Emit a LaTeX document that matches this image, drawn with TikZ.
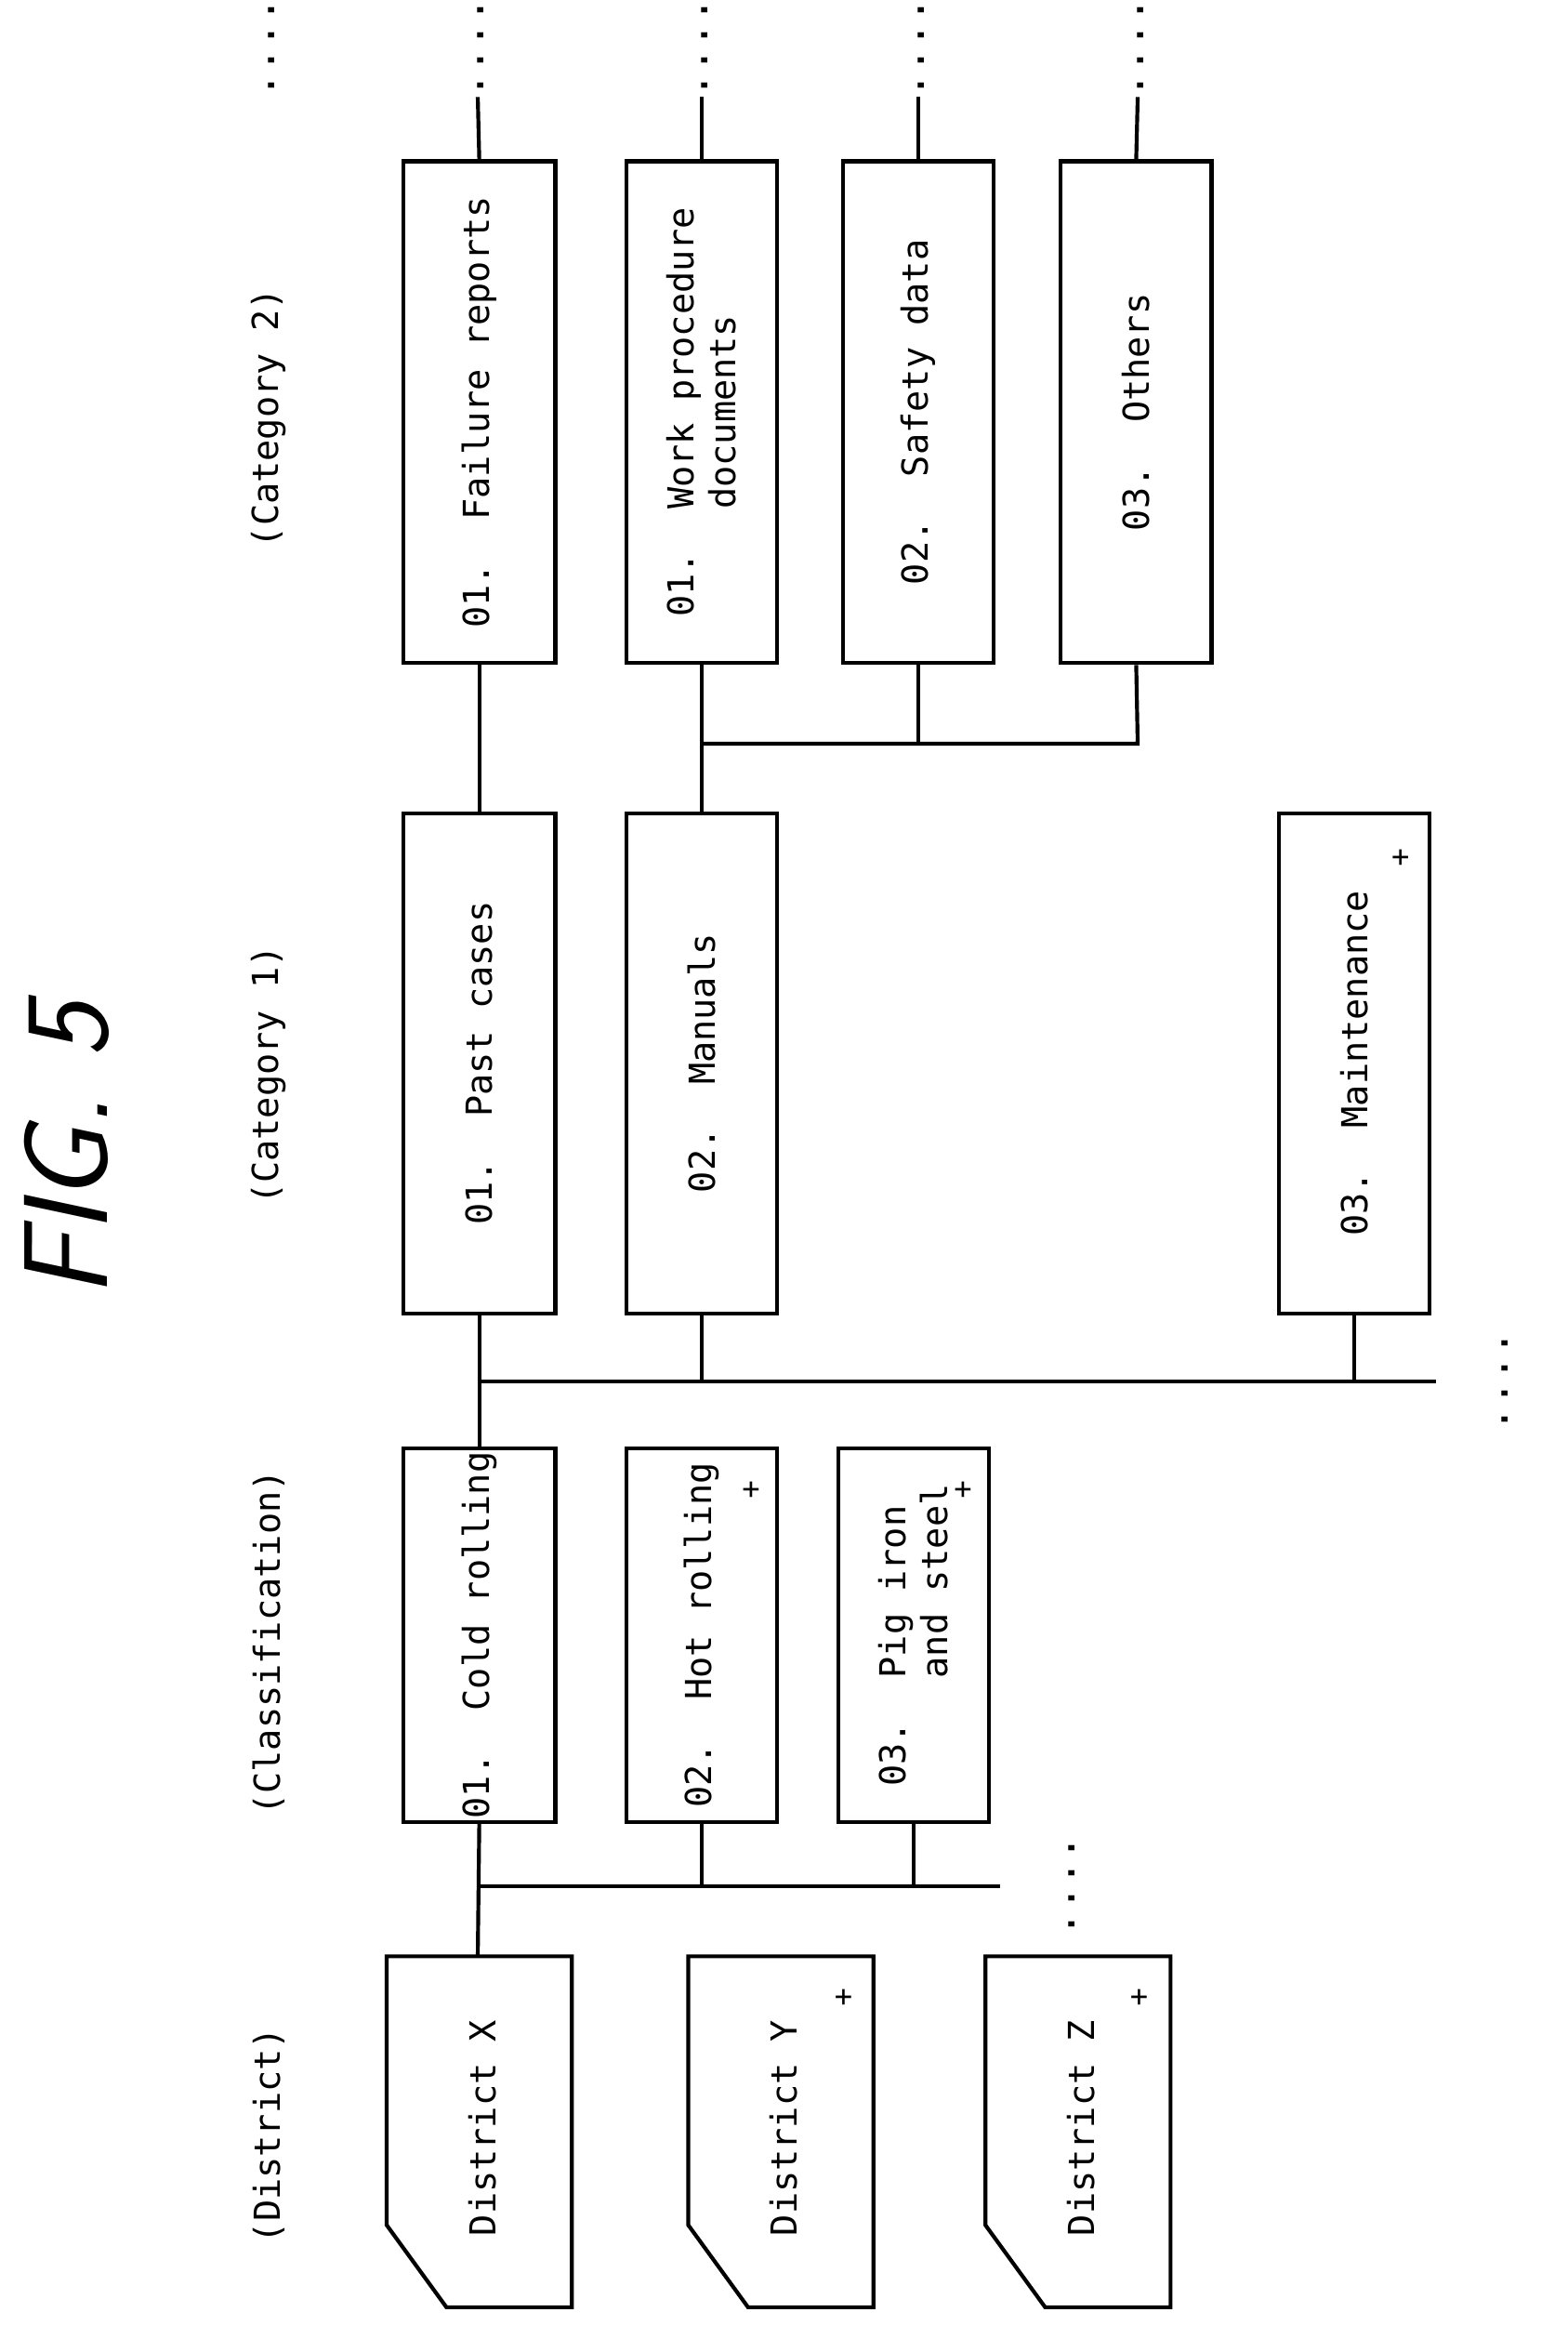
\documentclass[tikz,border=0pt]{standalone}
\usepackage{fontspec}
\setmonofont{DejaVu Sans Mono}
\usetikzlibrary{positioning}
\tikzset{
  box/.style={draw,line width=1.3pt,rotate=90,font=\ttfamily\fontsize{12}{14}\selectfont,align=left,inner sep=0pt},
  head/.style={rotate=90,font=\ttfamily\fontsize{12}{14}\selectfont},
  dots/.style={rotate=90,font=\ttfamily\fontsize{14}{14}\selectfont},
  plus/.style={font=\ttfamily\fontsize{10}{10}\selectfont}
}
\begin{document}
\begin{tikzpicture}[x=0.5pt,y=0.5pt,line width=1.3pt]
\useasboundingbox (0,0) rectangle (1050,-1575);
% title and headings
\node[rotate=90,font=\sffamily\itshape\fontsize{40}{40}\selectfont] (title) at (45,-770) {FIG. 5};
\node[head] (hdist) at (180,-1430) {(District)};
\node[head] (hclass) at (180,-1100) {(Classification)};
\node[head] (hcat1) at (180,-720) {(Category 1)};
\node[head] (hcat2) at (180,-280) {(Category 2)};
% category 2
\node[box,minimum width=168pt,minimum height=51pt] (fail) at (321,-276) {01.~~Failure reports};
\node[box,minimum width=168pt,minimum height=50.5pt] (work) at (470,-276) {01.~~Work procedure\\\phantom{01.~~}documents};
\node[box,minimum width=168pt,minimum height=50.5pt] (safe) at (615,-276) {02.~~Safety data};
\node[box,minimum width=168pt,minimum height=50.5pt] (other) at (761,-276) {03.~~Others};
% category 1
\node[box,minimum width=167.5pt,minimum height=51pt] (past) at (321,-712) {01.~~Past cases};
\node[box,minimum width=167.5pt,minimum height=50.5pt] (manu) at (470,-712) {02.~~Manuals};
\node[box,minimum width=167.5pt,minimum height=50.5pt] (maint) at (907,-712) {03.~~Maintenance};
\node[plus] (pmaint) at (938,-575) {+};
% classification
\node[box,minimum width=125pt,minimum height=51pt] (cold) at (321,-1095) {01.~~Cold rolling};
\node[box,minimum width=125pt,minimum height=50.5pt] (hot) at (470,-1095) {02.~~Hot rolling};
\node[plus] (phot) at (503,-998) {+};
\node[box,minimum width=125pt,minimum height=50.5pt] (pig) at (612,-1095) {03.~~Pig iron\\\phantom{03.~~}and steel};
\node[plus] (ppig) at (645,-998) {+};
% districts
\foreach \n/\x/\t in {distx/259/X,disty/461/Y,distz/660/Z}{
  \draw (\x,-1310) -- (\x+124,-1310) -- (\x+124,-1545) -- (\x+40,-1545)
        -- (\x,-1490) -- cycle;
  \node[head] (\n) at (\x+64,-1425) {District \t};
}
\node[plus] (py) at (565,-1338) {+};
\node[plus] (pz) at (763,-1338) {+};
\coordinate (xtop) at (320,-1310);
% buses
\coordinate (bus1) at (962,-925);
\coordinate (bus2) at (670,-1263);
\coordinate (bus3) at (762,-498);
\node[dots] (d1) at (1008,-925) {....};
\node[dots] (d2) at (718,-1263) {....};
\foreach \b/\x in {fail/320,work/470,safe/615,other/762}{
  \draw (\b.east) -- (\x,-65);
  \node[dots] at (\x+2,-32) {....};
}
\node[dots] (d3) at (182,-32) {....};
% connectors
\draw (past.east) -- (fail.west);
\draw (manu.east) -- (work.west);
\draw (work.west |- bus3) -- (bus3) -- (other.west);
\draw (safe.west) -- (safe.west |- bus3);
\draw (cold.east) -- (past.west);
\draw (past.west |- bus1) -- (bus1);
\draw (manu.west) -- (manu.west |- bus1);
\draw (maint.west) -- (maint.west |- bus1);
\draw (cold.west) -- (xtop);
\draw (cold.west |- bus2) -- (bus2);
\draw (hot.west) -- (hot.west |- bus2);
\draw (pig.west) -- (pig.west |- bus2);
\end{tikzpicture}
\end{document}
